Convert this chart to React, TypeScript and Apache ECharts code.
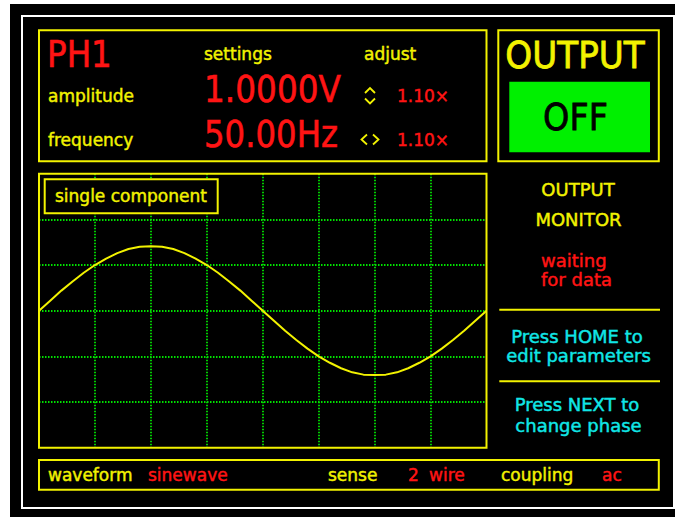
import React, { useEffect, useRef } from "react";
import * as echarts from "echarts";

// ---- data ----
// time in ms across the 8 horizontal divisions (2.5 ms/div, 50 Hz -> 20 ms period)
const timeMs = [
  0, 0.5, 1, 1.5, 2, 2.5, 3, 3.5, 4, 4.5, 5, 5.5, 6, 6.5, 7, 7.5, 8, 8.5, 9, 9.5,
  10, 10.5, 11, 11.5, 12, 12.5, 13, 13.5, 14, 14.5, 15, 15.5, 16, 16.5, 17, 17.5,
  18, 18.5, 19, 19.5, 20,
];
// volts (1 V/div), peak ~1.41 V
const volts = [
  0, 0.22, 0.44, 0.64, 0.83, 1.0, 1.14, 1.26, 1.35, 1.4, 1.41, 1.4, 1.35, 1.26,
  1.14, 1.0, 0.83, 0.64, 0.44, 0.22, 0, -0.22, -0.44, -0.64, -0.83, -1.0, -1.14,
  -1.26, -1.35, -1.4, -1.41, -1.4, -1.35, -1.26, -1.14, -1.0, -0.83, -0.64,
  -0.44, -0.22, 0,
];
const paramLabels = ["amplitude", "frequency"];
const paramValues = ["1.0000V", "50.00Hz"];
const adjustFactors = ["1.10×", "1.10×"];
const statusLabels = ["waveform", "sense", "coupling"];
const statusValues = ["sinewave", "2", "wire", "ac"];

const YEL = "#f2f200";
const RED = "#ff1414";
const CYAN = "#10e6e6";
const GRN = "#00e000";
const FONT = "DejaVu Sans";

function txt(
  text: string,
  x: number,
  baseline: number,
  fs: number,
  color: string,
  align: string = "left",
  sx: number = 1,
  bw: number = 0.45
) {
  return {
    type: "text",
    x,
    y: baseline - 0.346 * fs,
    scaleX: sx,
    z: 100,
    silent: true,
    style: {
      text,
      fill: color,
      stroke: color,
      lineWidth: bw,
      fontSize: fs,
      fontFamily: FONT,
      fontWeight: "normal",
      textAlign: align,
      align,
      textVerticalAlign: "middle",
      verticalAlign: "middle",
    },
  };
}

function box(x: number, y: number, w: number, h: number, stroke: string, fill: string = "transparent", lw = 2) {
  return {
    type: "rect",
    z: 90,
    silent: true,
    shape: { x, y, width: w, height: h },
    style: { fill, stroke, lineWidth: lw },
  };
}

function pl(points: number[][], color: string) {
  return {
    type: "polyline",
    z: 100,
    silent: true,
    shape: { points },
    style: { stroke: color, lineWidth: 1.8, fill: "none" },
  };
}

export default function App() {
  const ref = useRef<HTMLDivElement>(null);

  useEffect(() => {
    if (!ref.current) return;
    const chart = echarts.init(ref.current, null, { renderer: "svg" });

    const graphic: any[] = [
      // outer white margins
      { type: "rect", z: 1, silent: true, shape: { x: 0, y: 0, width: 675, height: 4 }, style: { fill: "#ffffff" } },
      { type: "rect", z: 1, silent: true, shape: { x: 0, y: 0, width: 10, height: 517 }, style: { fill: "#ffffff" } },
      // white frame
      box(22, 16, 652, 492, "#ffffff", "transparent", 2),
      // panels
      box(39, 30.3, 447.5, 131, YEL),
      box(498.3, 30.3, 160.5, 131, YEL),
      { type: "rect", z: 95, silent: true, shape: { x: 509.3, y: 81.7, width: 140.7, height: 70.6 }, style: { fill: "#00f000" } },
      box(39, 173.7, 447.5, 274, YEL),
      box(39, 460, 619.8, 29.7, YEL),
      { type: "line", z: 90, silent: true, shape: { x1: 499.3, y1: 309.7, x2: 660, y2: 309.7 }, style: { stroke: YEL, lineWidth: 2 } },
      { type: "line", z: 90, silent: true, shape: { x1: 499.3, y1: 381.3, x2: 660, y2: 381.3 }, style: { stroke: YEL, lineWidth: 2 } },
      // single component label box
      box(44.7, 179.3, 173, 34, YEL, "#000000"),
      txt("single component", 55, 201.7, 17, YEL),

      // header
      txt("PH1", 47, 67, 37, RED, "left", 0.88, 0.6),
      txt("settings", 204, 60, 17, YEL),
      txt("adjust", 364, 60, 17, YEL),
      txt(paramLabels[0], 48, 101.7, 17, YEL),
      txt(paramLabels[1], 48, 146, 17, YEL),
      txt(paramValues[0], 204, 101.7, 37, RED, "left", 0.885, 0.6),
      txt(paramValues[1], 204, 146.7, 37, RED, "left", 0.875, 0.6),
      txt(adjustFactors[0], 397, 101.7, 17, RED),
      txt(adjustFactors[1], 397, 146, 17, RED),
      pl([[365, 93], [370, 88], [375, 93]], YEL),
      pl([[365, 98.5], [370, 103.5], [375, 98.5]], YEL),
      pl([[367, 134.5], [361.5, 139.5], [367, 144.5]], YEL),
      pl([[373, 134.5], [378.5, 139.5], [373, 144.5]], YEL),

      // output panel
      txt("OUTPUT", 575, 68.3, 38, YEL, "center", 0.9, 0.8),
      txt("OFF", 575.5, 130, 38, "#000000", "center", 0.88, 0.8),

      // monitor side
      txt("OUTPUT", 578, 196, 18, YEL, "center"),
      txt("MONITOR", 578.5, 226, 18, YEL, "center"),
      txt("waiting", 541, 266.7, 18, RED),
      txt("for data", 541, 286, 18, RED),
      txt("Press HOME to", 577, 342.7, 18, CYAN, "center"),
      txt("edit parameters", 578.5, 362, 18, CYAN, "center"),
      txt("Press NEXT to", 577, 410.7, 18, CYAN, "center"),
      txt("change phase", 578.5, 431.7, 18, CYAN, "center"),

      // status bar
      txt(statusLabels[0], 48, 480.7, 17, YEL),
      txt(statusValues[0], 148, 480.7, 17, RED),
      txt(statusLabels[1], 328, 480.7, 17, YEL),
      txt(statusValues[1], 408, 480.7, 17, RED),
      txt(statusValues[2], 429, 480.7, 17, RED),
      txt(statusLabels[2], 501, 480.7, 17, YEL),
      txt(statusValues[3], 602, 480.7, 17, RED),
    ];

    const splitStyle = {
      show: true,
      showMinLine: false,
      showMaxLine: false,
      lineStyle: { color: GRN, type: [1.5, 1.5], width: 1.8 },
    };

    chart.setOption({
      animation: false,
      backgroundColor: "#000000",
      grid: { left: 39, top: 173.7, width: 447.5, height: 274, show: false },
      xAxis: {
        type: "value",
        min: 0,
        max: 20,
        interval: 2.5,
        axisLine: { show: false },
        axisTick: { show: false },
        axisLabel: { show: false },
        splitLine: splitStyle,
      },
      yAxis: {
        type: "value",
        min: -3,
        max: 3,
        interval: 1,
        axisLine: { show: false },
        axisTick: { show: false },
        axisLabel: { show: false },
        splitLine: splitStyle,
      },
      series: [
        {
          type: "line",
          data: timeMs.map((t, i) => [t, volts[i]]),
          showSymbol: false,
          smooth: false,
          z: 5,
          lineStyle: { color: YEL, width: 2 },
        },
      ],
      graphic,
    });

    return () => chart.dispose();
  }, []);

  return (
    <div
      ref={ref}
      style={{ position: "fixed", left: 0, top: 0, width: 675, height: 517 }}
    />
  );
}
